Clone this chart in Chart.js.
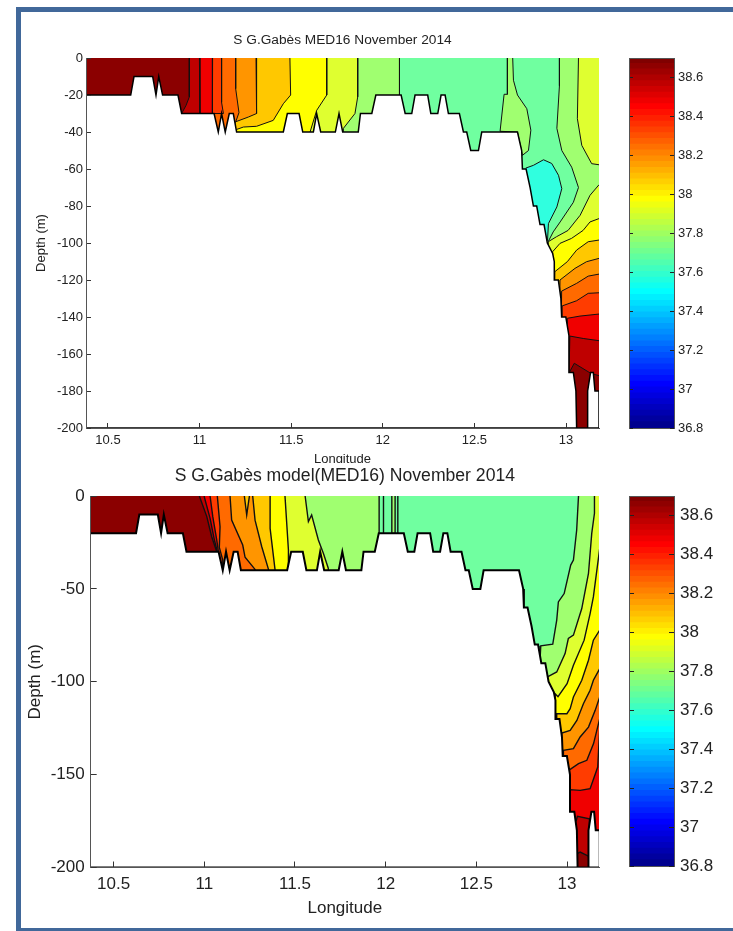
<!DOCTYPE html>
<html>
<head>
<meta charset="utf-8">
<title>S G.Gabès MED16 November 2014</title>
<script src="https://cdn.jsdelivr.net/npm/chart.js@4"></script>
<style>
  html, body { margin: 0; padding: 0; background: #fff; width: 733px; height: 931px; overflow: hidden; }
  #frame { position: absolute; left: 16px; top: 7px; width: 712px; height: 916px; border: 5px solid #41689a; border-right: none; z-index: 5; }
  canvas { position: absolute; }
  #topChart { left: 17px; top: 25px; }
  #bottomChart { left: 17px; top: 463px; background: #fff; }
  #topBar { left: 620px; top: 40px; }
  #bottomBar { left: 620px; top: 478px; }
</style>
</head>
<body>
<div id="frame"></div>
<canvas id="topChart" width="588" height="445"></canvas>
<canvas id="bottomChart" width="588" height="457"></canvas>
<canvas id="topBar" width="108" height="400"></canvas>
<canvas id="bottomBar" width="108" height="400"></canvas>
<script>
// tick labels
const lonTicks = [10.5, 11, 11.5, 12, 12.5, 13];
const topDepthTicks = [0, -20, -40, -60, -80, -100, -120, -140, -160, -180, -200];
const bottomDepthTicks = [0, -50, -100, -150, -200];
const barTicks = [36.8, 37, 37.2, 37.4, 37.6, 37.8, 38, 38.2, 38.4, 38.6];

// sea floor, [longitude, depth], same for both sections
const seabed = [[10.37,-20],[10.624,-20],[10.642,-10],[10.744,-10],[10.762,-20],[10.777,-10],[10.798,-20],[10.882,-20],[10.902,-30],
  [11.079,-30],[11.102,-40],[11.12,-30],[11.14,-40],[11.162,-30],[11.184,-30],[11.202,-40],[11.457,-40],[11.479,-30],[11.543,-30],
  [11.563,-40],[11.621,-40],[11.639,-30],[11.661,-40],[11.741,-40],[11.761,-30],[11.781,-40],[11.866,-40],[11.878,-30],[11.94,-30],
  [11.962,-20],[12.10,-20],[12.122,-30],[12.158,-30],[12.176,-20],[12.245,-20],[12.262,-30],[12.30,-30],[12.318,-20],[12.34,-20],
  [12.358,-30],[12.418,-30],[12.44,-40],[12.458,-40],[12.48,-50],[12.522,-50],[12.54,-40],[12.735,-40],[12.758,-50],[12.762,-60],
  [12.782,-60],[12.804,-70],[12.822,-80],[12.84,-80],[12.858,-90],[12.88,-90],[12.898,-100],[12.927,-105.6],[12.936,-110],[12.936,-120],
  [12.958,-120],[12.972,-130],[12.976,-140],[12.999,-140],[13.016,-150],[13.016,-170],[13.04,-170],[13.054,-180],[13.058,-200],
  [13.118,-200],[13.118,-180],[13.134,-170],[13.149,-170],[13.158,-180],[13.18,-180],[13.18,-200],[10.37,-200]];

// salinity contour bands, top section (MED16)
const topBase = [[12,0],[12,-200],[13.18,-200],[13.18,0]];
const topRight378 = [[12.964,0],[12.964,-15],[12.95,-38],[12.977,-50],[13.031,-59],[13.068,-70],[13.04,-78],[12.968,-88.6],[12.93,-94],[12.904,-99],[12.9,-200],[13.18,-200],[13.18,0]];
const topCorner379 = [[13.068,0],[13.062,-32.8],[13.086,-47.2],[13.14,-57.1],[13.18,-57.7],[13.18,0]];
const topPool376 = [[12.78,-59.5],[12.822,-58],[12.877,-55],[12.922,-57],[12.959,-63.4],[12.977,-70.6],[12.95,-80.5],[12.904,-89.5],[12.899,-98.6],[12.8,-98],[12.76,-60]];
const topPatch378 = [[12.68,0],[12.68,-19.6],[12.662,-19.6],[12.64,-39.6],[12.735,-40],[12.762,-52.6],[12.795,-50],[12.808,-39],[12.786,-27.4],[12.735,-20],[12.713,-12],[12.709,0]];
const topDeep379 = [[13.18,-68.5],[13.131,-74.2],[13.077,-85],[13.011,-93.2],[12.948,-96.6],[12.903,-99.3],[12.9,-200],[13.18,-200]];
const topDeep380 = [[13.18,-86.8],[13.131,-88.6],[13.093,-93.2],[13.03,-97.5],[12.967,-100.2],[12.927,-104.7],[12.92,-200],[13.18,-200]];
const topDeep381 = [[13.18,-98.4],[13.121,-99.3],[13.058,-103.8],[13.007,-110.1],[12.939,-115.5],[12.93,-200],[13.18,-200]];
const topDeep382 = [[13.18,-108.3],[13.112,-110.1],[13.049,-113.7],[12.967,-120],[12.96,-200],[13.18,-200]];
const topDeep383 = [[13.18,-116.8],[13.121,-117.9],[13.058,-121.8],[12.976,-126],[12.97,-200],[13.18,-200]];
const topDeep384 = [[13.18,-126.9],[13.121,-127.2],[13.058,-131.2],[12.979,-134],[12.975,-200],[13.18,-200]];
const topDeep385 = [[13.18,-138.4],[13.076,-139.5],[13.007,-140.7],[13,-200],[13.18,-200]];
const topDeep386 = [[13.18,-152.8],[13.094,-151.6],[13.021,-150.3],[13.01,-200],[13.18,-200]];
const topDeep387 = [[13.18,-171.7],[13.136,-170.5],[13.045,-165],[13.018,-170],[13.015,-200],[13.18,-200]];
const topShelf378 = [[12.091,0],[12.091,-60],[11.6,-60],[11.6,0]];
const topShelf379 = [[11.863,0],[11.863,-21],[11.848,-30],[11.785,-38],[11.78,-60],[11.4,-60],[11.4,0]];
const topShelf380 = [[11.694,0],[11.694,-20],[11.639,-28.3],[11.603,-40],[11.6,-60],[11.2,-60],[11.2,0]];
const topShelf381 = [[11.493,0],[11.497,-20],[11.457,-24.7],[11.402,-33.7],[11.311,-36.9],[11.239,-37.3],[11.202,-38.6],[11.19,-60],[11.19,0]];
const topShelf382 = [[11.308,0],[11.311,-30],[11.266,-31.9],[11.193,-34.6],[11.19,-60],[11.18,-60],[11.18,0]];
const topShelf383 = [[11.197,0],[11.197,-16.6],[11.215,-29.5],[11.197,-34.6],[11.05,-45],[11.05,0]];
const topShelf384 = [[11.12,0],[11.12,-24],[11.13,-30],[11,-30],[11,0]];
const topShelf385 = [[11.071,0],[11.07,-30],[10.95,-30],[10.95,0]];
const topShelf386 = [[10.999,0],[11.002,-30],[10.9,-30],[10.9,0]];
const topShelf387 = [[10.944,0],[10.944,-21],[10.926,-25.6],[10.902,-30],[10.37,-30],[10.37,0]];

// salinity contour bands, bottom section (model)
const lowBase = [[11.9,0],[11.9,-200],[13.18,-200],[13.18,0]];
const lowRight378 = [[13.063,0],[13.053,-18.3],[13.035,-34.5],[13.02,-37.2],[12.984,-52.5],[12.952,-57],[12.943,-66.8],[12.921,-79.8],[12.855,-80.7],[12.851,-88],[12.85,-200],[13.18,-200],[13.18,0]];
const lowRight379 = [[13.151,0],[13.151,-9.3],[13.136,-20.1],[13.118,-41.7],[13.081,-60.6],[13.035,-74.9],[13.007,-76.7],[12.989,-84.8],[12.943,-94.7],[12.892,-97.4],[12.89,-200],[13.18,-200],[13.18,0]];
const lowDeep380 = [[13.18,-28.2],[13.145,-54.3],[13.127,-63.3],[13.094,-77.6],[13.035,-91.1],[13,-101],[12.95,-108],[12.934,-106.4],[12.93,-200],[13.18,-200]];
const lowDeep381 = [[13.18,-72.2],[13.145,-77.6],[13.118,-88.4],[13.081,-99.2],[13.035,-108.2],[13.017,-114.5],[12.999,-117.2],[12.943,-117.2],[12.94,-200],[13.18,-200]];
const lowDeep382 = [[13.18,-92.9],[13.145,-99.2],[13.127,-104.6],[13.09,-111.8],[13.054,-120.8],[13.017,-126.2],[12.971,-127.6],[12.965,-200],[13.18,-200]];
const lowDeep383 = [[13.18,-108.2],[13.155,-115.4],[13.118,-124.4],[13.072,-129.7],[13.035,-136],[12.98,-136.9],[12.975,-200],[13.18,-200]];
const lowDeep384 = [[13.18,-119.9],[13.146,-133.3],[13.109,-142.3],[13.063,-144.1],[13.013,-147.4],[13.01,-200],[13.18,-200]];
const lowDeep385 = [[13.18,-125.3],[13.169,-145.9],[13.127,-157.6],[13.072,-158.5],[13.017,-158.1],[13.015,-200],[13.18,-200]];
const lowPit386 = [[13.05,-175],[13.057,-172.5],[13.123,-173.8],[13.125,-200],[13.05,-200]];
const lowPit387 = [[13.055,-192.6],[13.072,-191.7],[13.118,-193.9],[13.125,-200],[13.05,-200]];
const lowShelf378 = [[11.964,0],[11.964,-60],[11.5,-60],[11.5,0]];
const lowStrip378 = [[12.034,0],[12.034,-20.1],[12.052,-20.1],[12.052,0]];
const lowLineA = [[11.988,0],[11.988,-20.1]];
const lowLineB = [[12.067,0],[12.067,-20.1]];
const lowShelf379 = [[11.556,0],[11.574,-13.8],[11.592,-10.2],[11.629,-23.7],[11.657,-30.9],[11.684,-39],[11.68,-60],[11.4,-60],[11.4,0]];
const lowShelf380 = [[11.445,0],[11.464,-29.1],[11.464,-60],[11.35,-60],[11.35,0]];
const lowShelf381 = [[11.363,0],[11.363,-17.4],[11.39,-39.5],[11.39,-60],[11.25,-60],[11.25,0]];
const lowShelf382 = [[11.267,0],[11.28,-13],[11.317,-27.3],[11.354,-39.5],[11.35,-60],[11.13,-60],[11.13,0]];
const lowTongue381 = [[11.221,0],[11.234,-10.2],[11.249,0]];
const lowShelf383 = [[11.142,0],[11.151,-12.9],[11.212,-26.4],[11.225,-33],[11.28,-39.5],[11.28,-60],[11.05,-60],[11.05,0]];
const lowShelf384 = [[11.072,0],[11.087,-16.5],[11.083,-27.7],[11.102,-34.5],[11.102,-60],[11,-60],[11,0]];
const lowShelf385 = [[11.032,0],[11.047,-11.1],[11.069,-23.7],[11.078,-30],[10.95,-30],[10.95,0]];
const lowShelf386 = [[10.999,0],[11.032,-12],[11.054,-22.8],[11.072,-30],[10.9,-30],[10.9,0]];
const lowShelf387 = [[10.973,0],[11.014,-11.1],[11.041,-21.9],[11.069,-30],[10.37,-30],[10.37,0]];

// colorbar
const barEdges = [36.8,36.83,36.859,36.889,36.919,36.948,36.978,37.008,37.038,37.067,37.097,37.127,37.156,37.186,37.216,37.245,
  37.275,37.305,37.334,37.364,37.394,37.423,37.453,37.483,37.513,37.542,37.572,37.602,37.631,37.661,37.691,37.72,
  37.75,37.78,37.809,37.839,37.869,37.898,37.928,37.958,37.988,38.017,38.047,38.077,38.106,38.136,38.166,38.195,
  38.225,38.255,38.284,38.314,38.344,38.373,38.403,38.433,38.463,38.492,38.522,38.552,38.581,38.611,38.641,38.67,38.7];
const barColors = ['#00008f','#00009f','#0000af','#0000bf','#0000cf','#0000df','#0000ef','#0000ff',
  '#0010ff','#0020ff','#0030ff','#0040ff','#0050ff','#0060ff','#0070ff','#0080ff','#008fff','#009fff','#00afff','#00bfff','#00cfff','#00dfff','#00efff','#00ffff',
  '#10ffef','#20ffdf','#30ffcf','#40ffbf','#50ffaf','#60ff9f','#70ff8f','#80ff80','#8fff70','#9fff60','#afff50','#bfff40','#cfff30','#dfff20','#efff10','#ffff00',
  '#ffef00','#ffdf00','#ffcf00','#ffbf00','#ffaf00','#ff9f00','#ff8f00','#ff8000','#ff7000','#ff6000','#ff5000','#ff4000','#ff3000','#ff2000','#ff1000','#ff0000',
  '#ef0000','#df0000','#cf0000','#bf0000','#af0000','#9f0000','#8f0000','#800000'];

// band colours
const c376 = '#30ffdf', c377 = '#70ffa0', c378 = '#a0ff70', c379 = '#dfff30', c380 = '#ffff00', c381 = '#ffc800',
      c382 = '#ff9500', c383 = '#ff6a00', c384 = '#ff3c00', c385 = '#f00000', c386 = '#bf0000', c387 = '#8b0000';

// painted in this order, seabed goes over everything
const topLayers = [[topBase,c377],[topRight378,c378],[topCorner379,c379],[topPool376,c376],[topPatch378,c378],
  [topDeep379,c379],[topDeep380,c380],[topDeep381,c381],[topDeep382,c382],[topDeep383,c383],[topDeep384,c384],[topDeep385,c385],[topDeep386,c386],[topDeep387,c387],
  [topShelf378,c378],[topShelf379,c379],[topShelf380,c380],[topShelf381,c381],[topShelf382,c382],[topShelf383,c383],[topShelf384,c384],[topShelf385,c385],[topShelf386,c386],[topShelf387,c387]];
const lowLayers = [[lowBase,c377],[lowRight378,c378],[lowRight379,c379],
  [lowDeep380,c380],[lowDeep381,c381],[lowDeep382,c382],[lowDeep383,c383],[lowDeep384,c384],[lowDeep385,c385],[lowPit386,c386],[lowPit387,c387],
  [lowShelf378,c378],[lowStrip378,c378],[lowLineA,c377],[lowLineB,c377],
  [lowShelf379,c379],[lowShelf380,c380],[lowShelf381,c381],[lowShelf382,c382],[lowTongue381,c381],[lowShelf383,c383],[lowShelf384,c384],[lowShelf385,c385],[lowShelf386,c386],[lowShelf387,c387]];

Chart.defaults.font.family = "'Liberation Sans', Arial, sans-serif";
Chart.defaults.color = '#222';
Chart.defaults.animation = false;

// fills the polygon of a line dataset from the points the scales computed
const fillShapes = {
  id: 'fillShapes',
  beforeDatasetDraw(chart, args) {
    const pts = args.meta.data, a = chart.chartArea, ctx = chart.ctx;
    ctx.save();
    ctx.beginPath();
    ctx.rect(a.left, a.top, a.width, a.height);
    ctx.clip();
    ctx.beginPath();
    pts.forEach((p, i) => i ? ctx.lineTo(p.x, p.y) : ctx.moveTo(p.x, p.y));
    ctx.closePath();
    ctx.fillStyle = chart.data.datasets[args.index].backgroundColor;
    ctx.fill();
    ctx.restore();
  }
};

function setTicks(values) {
  return scale => { scale.ticks = values.map(v => ({ value: v })); };
}

function section(id, layers, o) {
  const onEdge = ctx => {
    const a = ctx.p0.parsed, b = ctx.p1.parsed;
    if ((a.y === 0 && b.y === 0) || (a.y === -200 && b.y === -200) || (a.x >= 13.17 && b.x >= 13.17)) return 'rgba(0,0,0,0)';
    return undefined;
  };
  const datasets = layers.map((l, i) => ({
    data: l[0].map(p => ({ x: p[0], y: p[1] })),
    backgroundColor: l[1],
    borderColor: '#111',
    borderWidth: o.lineWidth,
    showLine: true,
    pointRadius: 0,
    order: layers.length - i + 1,
    segment: { borderColor: onEdge }
  }));
  datasets.push({
    data: seabed.map(p => ({ x: p[0], y: p[1] })),
    backgroundColor: '#fff',
    borderColor: '#000',
    borderWidth: o.bedWidth,
    showLine: true,
    pointRadius: 0,
    order: 0
  });
  new Chart(document.getElementById(id), {
    type: 'scatter',
    data: { datasets: datasets },
    plugins: [fillShapes],
    options: {
      responsive: false,
      layout: { padding: { right: 6 } },
      plugins: {
        legend: { display: false },
        tooltip: { enabled: false },
        title: {
          display: true, text: o.title, fullSize: false, color: '#222',
          font: { size: o.titleSize, weight: 'normal' }, padding: o.titlePad
        }
      },
      scales: {
        x: {
          min: o.xMin, max: o.xMax,
          afterBuildTicks: setTicks(lonTicks),
          afterFit: s => { s.height = o.xHeight; },
          grid: { drawOnChartArea: false, z: 1, tickLength: -o.tick, tickColor: '#333' },
          border: { z: 1, color: '#555' },
          ticks: { maxRotation: 0, font: { size: o.font }, padding: o.xPad, callback: v => String(v) },
          title: { display: true, text: 'Longitude', font: { size: o.labelSize }, color: '#222', padding: { top: 0, bottom: o.xLabelPad } }
        },
        y: {
          min: -200, max: 0,
          afterBuildTicks: setTicks(o.yTicks),
          afterFit: s => { s.width = o.yWidth; },
          grid: { drawOnChartArea: false, z: 1, tickLength: -o.tick, tickColor: '#333' },
          border: { z: 1, color: '#555' },
          ticks: { font: { size: o.font }, padding: o.yPad, callback: v => String(v) },
          title: { display: true, text: 'Depth (m)', font: { size: o.labelSize }, color: '#222', padding: { top: o.yLabelPad, bottom: 0 } }
        }
      }
    }
  });
}

function colorbar(id, size, tick, pad) {
  const datasets = barColors.map((c, i) => ({
    data: [[barEdges[i], barEdges[i + 1] + 0.003]],
    backgroundColor: c,
    borderWidth: 0,
    grouped: false,
    barPercentage: 1,
    categoryPercentage: 1
  }));
  const tickGrid = { drawOnChartArea: false, z: 1, tickLength: -tick, tickColor: '#222' };
  new Chart(document.getElementById(id), {
    type: 'bar',
    data: { labels: [''], datasets: datasets },
    options: {
      responsive: false,
      layout: { padding: { left: 9, top: 18, bottom: 12 } },
      plugins: { legend: { display: false }, tooltip: { enabled: false } },
      scales: {
        x: {
          grid: { display: false }, border: { z: 1, color: '#555' }, ticks: { display: false },
          afterFit: s => { s.height = 0; }
        },
        xTop: {
          type: 'linear', position: 'top', grid: { display: false }, border: { z: 1, color: '#555' }, ticks: { display: false },
          afterFit: s => { s.height = 0; }
        },
        y: {
          position: 'right', min: 36.8, max: 38.7,
          afterBuildTicks: setTicks(barTicks),
          afterFit: s => { s.width = 54; s.paddingTop = 0; s.paddingBottom = 0; },
          grid: tickGrid, border: { z: 1, color: '#555' },
          ticks: { font: { size: size }, padding: pad, callback: v => String(v) }
        },
        yLeft: {
          position: 'left', min: 36.8, max: 38.7,
          afterBuildTicks: setTicks(barTicks),
          afterFit: s => { s.width = 0; s.paddingTop = 0; s.paddingBottom = 0; },
          grid: tickGrid, border: { z: 1, color: '#555' },
          ticks: { display: false }
        }
      }
    }
  });
}

section('topChart', topLayers, {
  title: 'S G.Gabès MED16 November 2014', titleSize: 13.7, titlePad: { top: 7, bottom: 9.6 },
  xMin: 10.38, xMax: 13.18, yTicks: topDepthTicks,
  xHeight: 42, yWidth: 69, font: 13, labelSize: 13, tick: 5, xPad: 10, yPad: 8,
  xLabelPad: 2.6, yLabelPad: 17, lineWidth: 1, bedWidth: 1.5
});
section('bottomChart', lowLayers, {
  title: 'S G.Gabès model(MED16) November 2014', titleSize: 17.6, titlePad: { top: 2.5, bottom: 9.4 },
  xMin: 10.374, xMax: 13.176, yTicks: bottomDepthTicks,
  xHeight: 52.5, yWidth: 73.7, font: 17, labelSize: 17, tick: 6, xPad: 13, yPad: 12,
  xLabelPad: 1.8, yLabelPad: 8, lineWidth: 1.4, bedWidth: 2
});
colorbar('topBar', 13, 4, 8);
colorbar('bottomBar', 17, 5, 11);
</script>
</body>
</html>
